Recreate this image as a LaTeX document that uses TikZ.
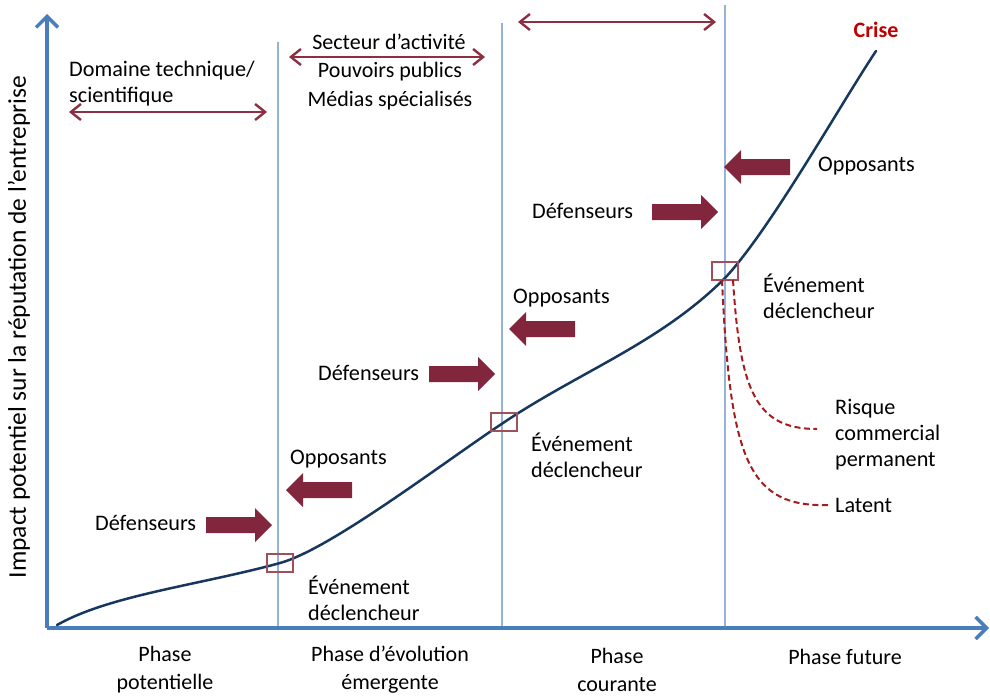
\documentclass[tikz,border=0pt]{standalone}
\usepackage{fontspec}
\setmainfont{Carlito}
\usetikzlibrary{arrows.meta}

\definecolor{axisblue}{HTML}{4A7EBB}
\definecolor{phaseline}{HTML}{95B3D7}
\definecolor{curvenavy}{HTML}{17375E}
\definecolor{boxred}{HTML}{A0505A}
\definecolor{blockred}{HTML}{82263D}
\definecolor{spanred}{HTML}{8B2F41}
\definecolor{dashred}{HTML}{A51C1C}
\definecolor{criseRed}{HTML}{C00000}

\tikzset{
  lbl/.style={inner sep=0pt, font=\fontsize{22.2}{26}\selectfont, align=left},
  clbl/.style={inner sep=0pt, font=\fontsize{22}{28}\selectfont, align=center},
  axis/.style={draw=axisblue, line width=4pt, -{Straight Barb[length=11pt,width=22pt,line width=3.5pt]}},
  phase/.style={draw=phaseline, line width=1.6pt},
  span/.style={draw=spanred, line width=2.4pt, {Straight Barb[length=10pt,width=16pt]}-{Straight Barb[length=10pt,width=16pt]}},
  trigger/.style={draw=boxred, line width=1.3pt, minimum width=26pt, minimum height=18pt, inner sep=0pt},
  latent/.style={draw=dashred, line width=2pt, dash pattern=on 6pt off 3.5pt},
  rarrow/.pic={\fill[blockred] (-66,-8) -- (-17,-8) -- (-17,-17) -- (0,0) -- (-17,17) -- (-17,8) -- (-66,8) -- cycle;},
  larrow/.pic={\fill[blockred] (66,-8) -- (17,-8) -- (17,-17) -- (0,0) -- (17,17) -- (17,8) -- (66,8) -- cycle;}
}

\begin{document}
\begin{tikzpicture}[x=1pt,y=-1pt]
\useasboundingbox (0,0) rectangle (990,696);

% axes
\coordinate (O) at (47,628);
\coordinate (ytop) at (47,14);
\coordinate (xend) at (989,628);

% phase separators
\coordinate (p1t) at (278,42);  \coordinate (p1b) at (278,628);
\coordinate (p2t) at (502,23);  \coordinate (p2b) at (502,628);
\coordinate (p3t) at (725,5);   \coordinate (p3b) at (725,628);
\draw[phase] (p1t) -- (p1b);
\draw[phase] (p2t) -- (p2b);
\draw[phase] (p3t) -- (p3b);

\draw[axis] (O) -- (ytop);
\draw[axis] (O) -- (xend);

% impact curve, one smooth cubic piece per phase
\coordinate (c0) at (57,625);
\coordinate (c1) at (280,563);
\coordinate (c2) at (503,423);
\coordinate (c3) at (725,278);
\coordinate (c4) at (876,51);
\draw[curvenavy, line width=2.5pt, line cap=round]
  (c0) .. controls (110,595) and (200,585) .. (c1)
       .. controls (330,549.25) and (440,465) .. (c2)
       .. controls (580,371.4) and (660,343) .. (c3)
       .. controls (770,230) and (840,105) .. (c4);

% trigger events
\node[trigger] (t1) at (280,563) {};
\node[trigger] (t2) at (504,422) {};
\node[trigger] (t3) at (725,271) {};

% post-event scenarios
\coordinate (rEnd) at (817,429);
\coordinate (lEnd) at (830,505);
\draw[latent] (733,280) .. controls (740,390) and (755,429) .. (rEnd);
\draw[latent] (722,280) .. controls (730,460) and (748,508) .. (lEnd);

% actor arrows
\pic at (272,525) {rarrow};
\pic at (286,490) {larrow};
\pic at (495,374) {rarrow};
\pic at (509,329) {larrow};
\pic at (718,212) {rarrow};
\pic at (724,167) {larrow};

% spheres of influence
\coordinate (s1a) at (69,112);  \coordinate (s1b) at (267,112);
\coordinate (s2a) at (289,57);  \coordinate (s2b) at (485,57);
\coordinate (s3a) at (518,22);  \coordinate (s3b) at (716,22);
\draw[span] (s1a) -- (s1b);
\draw[span] (s2a) -- (s2b);
\draw[span] (s3a) -- (s3b);

% labels
\node[lbl, anchor=west] (dom) at (69,84) {Domaine technique/\\scientifique};
\node[clbl] (sect) at (389,42) {Secteur d’activité};
\node[clbl] (pouv) at (390,72) {Pouvoirs publics};
\node[clbl] (med) at (390,101) {Médias spécialisés};
\node[lbl, anchor=center, text=criseRed, font=\fontsize{22}{26}\selectfont\bfseries] (crise) at (876,30) {Crise};

\node[lbl, anchor=west] (d1) at (95,523) {Défenseurs};
\node[lbl, anchor=west] (o1) at (290,459) {Opposants};
\node[lbl, anchor=west] (e1) at (308,598) {Événement\\déclencheur};
\node[lbl, anchor=west] (d2) at (318,373) {Défenseurs};
\node[lbl, anchor=west] (o2) at (513,298) {Opposants};
\node[lbl, anchor=west] (e2) at (531,455) {Événement\\déclencheur};
\node[lbl, anchor=west] (d3) at (532,211) {Défenseurs};
\node[lbl, anchor=west] (o3) at (818,166) {Opposants};
\node[lbl, anchor=west] (e3) at (763,296) {Événement\\déclencheur};
\node[lbl, anchor=west] (risk) at (835,435) {Risque\\commercial\\permanent};
\node[lbl, anchor=west] (lat) at (835,505) {Latent};

\node[inner sep=0pt, font=\fontsize{25.5}{30}\selectfont, rotate=90, anchor=center] (ylab) at (19,327) {Impact potentiel sur la réputation de l’entreprise};

\node[clbl] (ph1) at (165,670) {Phase\\potentielle};
\node[clbl] (ph2) at (390,670) {Phase d’évolution\\émergente};
\node[clbl] (ph3) at (617,670) {Phase\\courante};
\node[clbl] (ph4) at (845,657) {Phase future};
\end{tikzpicture}
\end{document}
